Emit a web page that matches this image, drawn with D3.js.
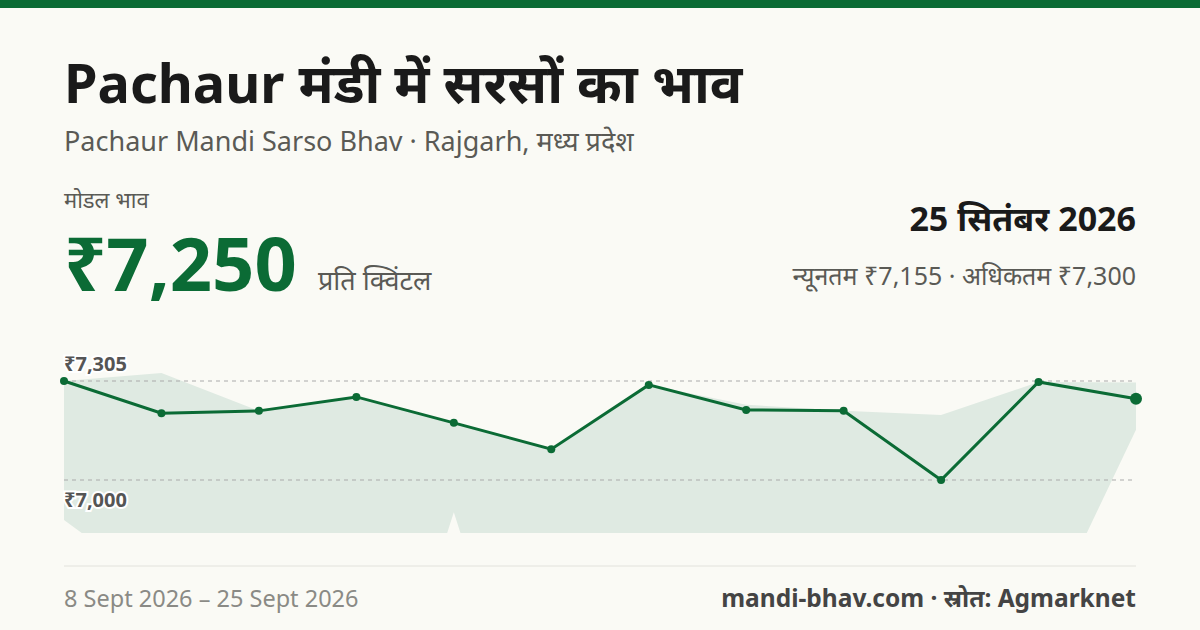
<!DOCTYPE html>
<html><head><meta charset="utf-8">
<script src="https://cdn.jsdelivr.net/npm/d3@7"></script>
<style>
body{margin:0;background:#fafaf5;font-family:"Noto Sans",sans-serif}
</style></head><body>
<svg id="c" width="1200" height="630"></svg>
<script>
const dates = ["8 Sept","9 Sept","10 Sept","11 Sept","12 Sept","15 Sept","16 Sept","17 Sept","18 Sept","19 Sept","22 Sept","25 Sept"];
const modal = [7305,7206,7213,7256,7176,7095,7293,7216,7213,7000,7302,7250];
const maxP  = [7305,7330,7213,7256,7176,7095,7293,7232,7213,7200,7302,7300];
const minP  = [6877,6656,6500,5960,6901,5960,6000,6000,6000,6000,6525,7155];
const ticks = [7305,7000];

const svg = d3.select("#c");
const green = "#0b6b35";
svg.append("rect").attr("width",1200).attr("height",8).attr("fill",green);

const T = (x,y,s,txt,o={}) => svg.append("text").attr("x",x).attr("y",y)
  .attr("font-size",s).attr("fill",o.fill||"#1a1a1a").attr("font-weight",o.w||400)
  .attr("text-anchor",o.a||"start").text(txt);

T(64,103,54,"Pachaur मंडी में सरसों का भाव",{w:700});
T(64,151,27,"Pachaur Mandi Sarso Bhav · Rajgarh, मध्य प्रदेश",{fill:"#5a5a55"});
T(64,208,22,"मोडल भाव",{fill:"#5a5a55"});
T(64,291,74,"₹7,250",{w:700,fill:green});
T(318,290,27,"प्रति क्विंटल",{fill:"#5a5a55"});
T(1136,231,34,"25 सितंबर 2026",{w:700,a:"end"});
T(1136,285,25,"न्यूनतम ₹7,155 · अधिकतम ₹7,300",{fill:"#5a5a55",a:"end"});

const x = d3.scalePoint().domain(dates).range([64,1136]);
const y = d3.scaleLinear().domain([7000,7305]).range([480,381]);

svg.append("clipPath").attr("id","cl").append("rect")
  .attr("x",64).attr("y",340).attr("width",1072).attr("height",193);

const area = d3.area().x((d,i)=>x(dates[i])).y0((d,i)=>y(minP[i])).y1((d,i)=>y(maxP[i]));
svg.append("path").datum(modal).attr("d",area).attr("fill","#dfeae2").attr("clip-path","url(#cl)");

ticks.forEach(t=>{
  svg.append("line").attr("x1",64).attr("x2",1136).attr("y1",y(t)).attr("y2",y(t))
    .attr("stroke","#aaa").attr("stroke-dasharray","4,4").attr("stroke-width",1);
});

const line = d3.line().x((d,i)=>x(dates[i])).y(d=>y(d));
svg.append("path").datum(modal).attr("d",line).attr("fill","none").attr("stroke",green).attr("stroke-width",3);
svg.selectAll("circle.p").data(modal).join("circle")
  .attr("cx",(d,i)=>x(dates[i])).attr("cy",d=>y(d))
  .attr("r",(d,i)=>i===modal.length-1?6:4).attr("fill",green);

ticks.forEach((t,i)=>{
  svg.append("text").attr("x",64).attr("y",i===0?y(t)-10:y(t)+27)
    .attr("font-size",20).attr("font-weight",700).attr("fill","#555")
    .attr("stroke","#fff").attr("stroke-width",4).attr("paint-order","stroke")
    .text("₹"+d3.format(",")(t));
});

svg.append("line").attr("x1",64).attr("x2",1136).attr("y1",566).attr("y2",566).attr("stroke","#e2e2dc");
T(64,607,23.5,"8 Sept 2026 – 25 Sept 2026",{fill:"#8a8a85"});
T(1136,607,24.5,"mandi-bhav.com · स्रोत: Agmarknet",{fill:"#444",w:700,a:"end"});
</script></body></html>
